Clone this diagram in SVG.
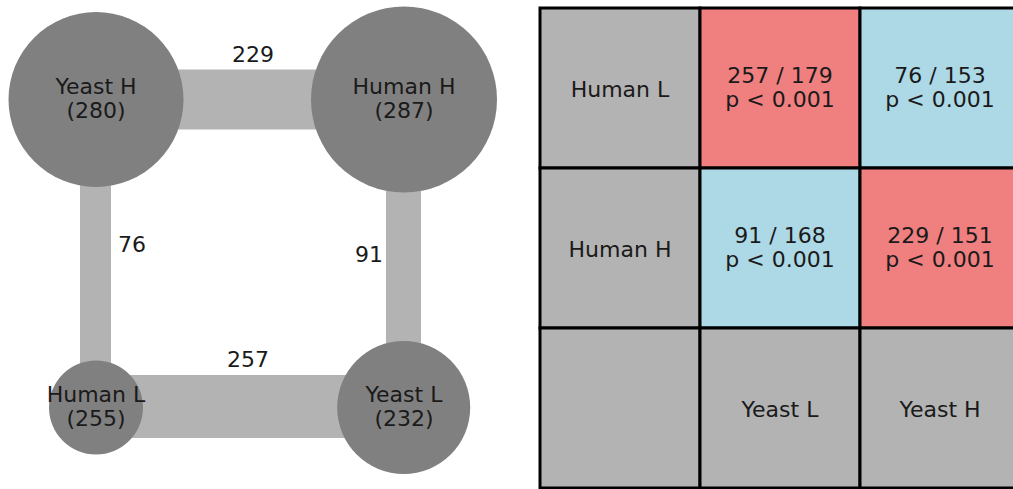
<svg xmlns="http://www.w3.org/2000/svg" width="1013" height="489" viewBox="0 0 1013 489">
<style>
text{font-family:"DejaVu Sans",sans-serif;font-size:22px;fill:#1a1a1a;text-anchor:middle}
.edge{stroke:#b3b3b3;fill:none;stroke-linecap:butt}
.node{fill:#808080}
.cell{stroke:#000;stroke-width:3}
.g{fill:#b3b3b3}.r{fill:#f08080}.b{fill:#add8e6}
</style>
<rect width="1013" height="489" fill="#fff"/>
<g id="connectors">
<line class="edge" x1="96" y1="99.5" x2="404" y2="99.5" stroke-width="60"/>
<line class="edge" x1="95.5" y1="99.5" x2="95.5" y2="407.5" stroke-width="31"/>
<line class="edge" x1="403.5" y1="99.5" x2="403.5" y2="407.5" stroke-width="35"/>
<line class="edge" x1="96" y1="406.5" x2="404" y2="406.5" stroke-width="63"/>
<text x="253" y="62">229</text>
<text x="132" y="252">76</text>
<text x="369" y="262">91</text>
<text x="248" y="367">257</text>
</g>
<g id="yeastH"><circle class="node" cx="96" cy="99.5" r="87.5"/><text x="96" y="94">Yeast H</text><text x="96" y="118">(280)</text></g>
<g id="humanH"><circle class="node" cx="404" cy="99.5" r="93"/><text x="404" y="94">Human H</text><text x="404" y="118">(287)</text></g>
<g id="humanL"><circle class="node" cx="96" cy="407.5" r="47"/><text x="96" y="402">Human L</text><text x="96" y="426">(255)</text></g>
<g id="yeastL"><circle class="node" cx="403.7" cy="407.5" r="66.5"/><text x="404" y="402">Yeast L</text><text x="404" y="426">(232)</text></g>
<g id="matrix">
<rect class="cell g" x="540" y="8" width="160" height="160"/>
<rect class="cell r" x="700" y="8" width="160" height="160"/>
<rect class="cell b" x="860" y="8" width="160" height="160"/>
<rect class="cell g" x="540" y="168" width="160" height="160"/>
<rect class="cell b" x="700" y="168" width="160" height="160"/>
<rect class="cell r" x="860" y="168" width="160" height="160"/>
<rect class="cell g" x="540" y="328" width="160" height="160"/>
<rect class="cell g" x="700" y="328" width="160" height="160"/>
<rect class="cell g" x="860" y="328" width="160" height="160"/>
<text x="620" y="96.5">Human L</text>
<text x="780" y="82.5">257 / 179</text><text x="780" y="107">p &lt; 0.001</text>
<text x="940" y="82.5">76 / 153</text><text x="940" y="107">p &lt; 0.001</text>
<text x="620" y="256.5">Human H</text>
<text x="780" y="242.5">91 / 168</text><text x="780" y="267">p &lt; 0.001</text>
<text x="940" y="242.5">229 / 151</text><text x="940" y="267">p &lt; 0.001</text>
<text x="780" y="416.5">Yeast L</text>
<text x="940" y="416.5">Yeast H</text>
</g>
</svg>
